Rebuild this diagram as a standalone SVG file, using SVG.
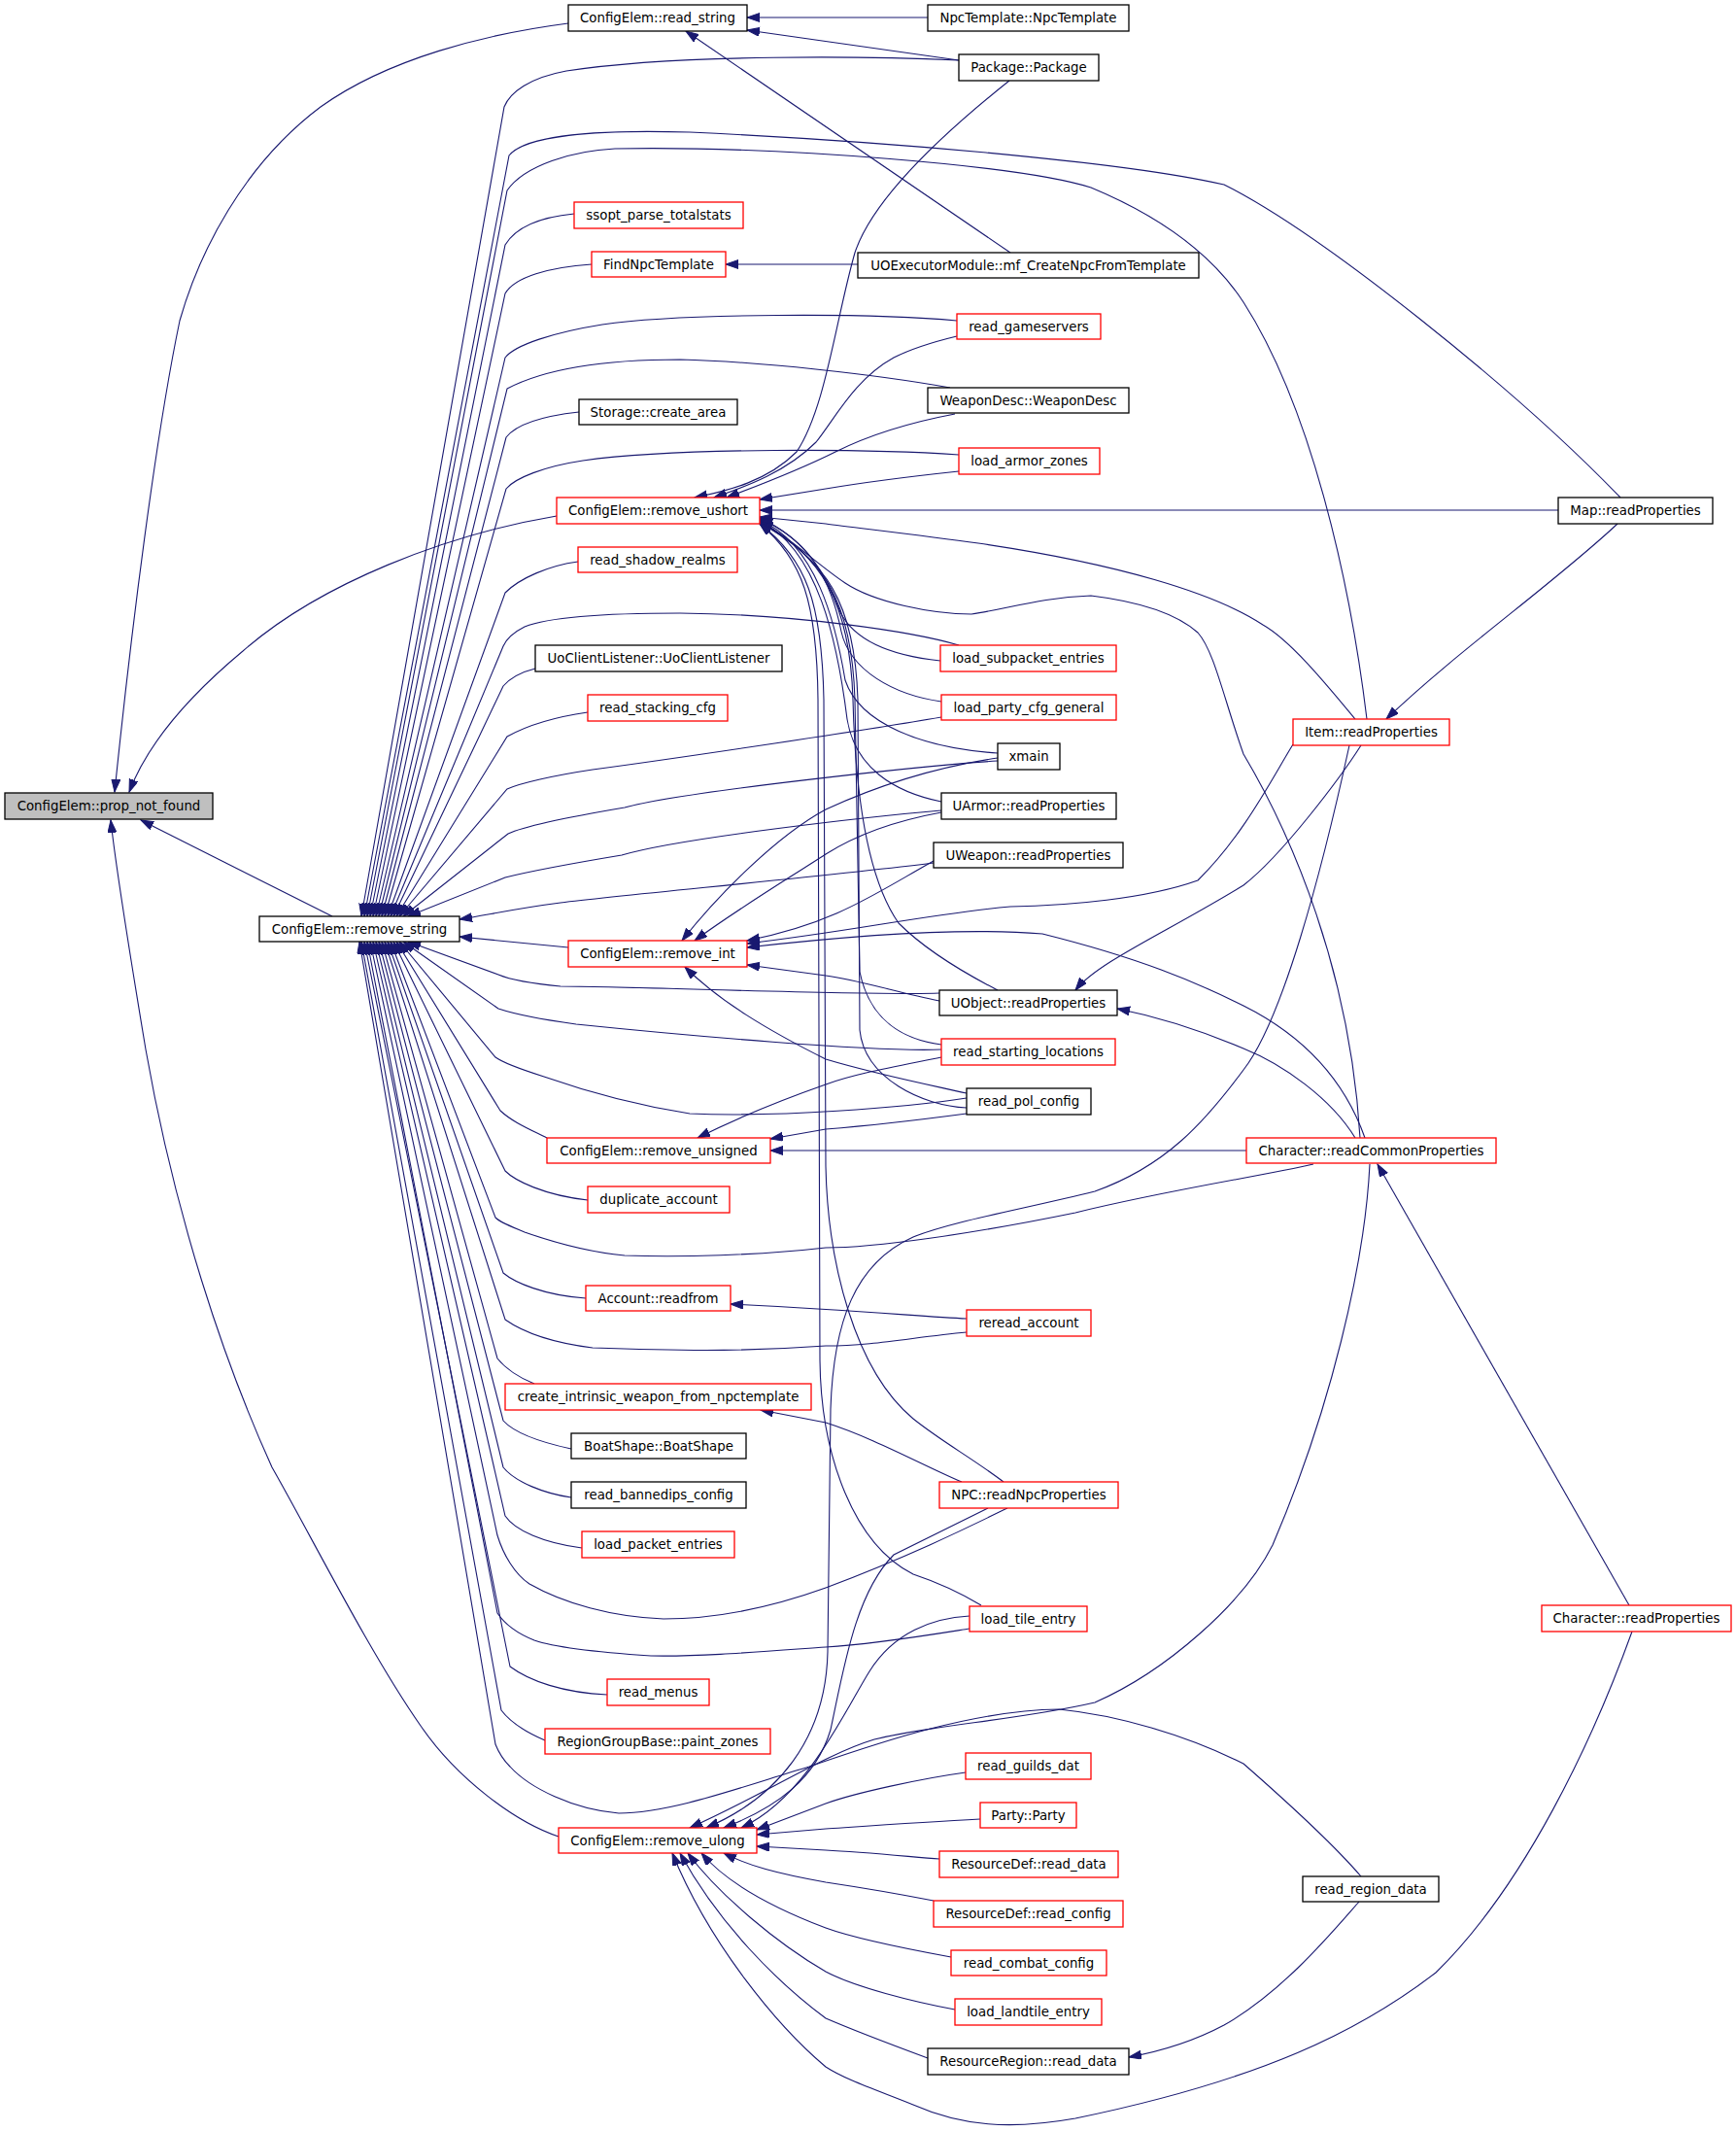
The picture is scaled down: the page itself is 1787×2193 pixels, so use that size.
<svg xmlns="http://www.w3.org/2000/svg" width="1787" height="2193" viewBox="0 0 1787 2193">
<style>
.n rect{fill:#ffffff;stroke:#000000;stroke-width:1.3}
.n.r rect{stroke:#ff0000}
.n.g rect{fill:#bfbfbf}
.n text{font-family:"DejaVu Sans","Liberation Sans",sans-serif;font-size:13.33px;text-anchor:middle;fill:#000000}
#edges path{fill:none;stroke:#191970;stroke-width:1.1;marker-end:url(#ah)}
</style>
<defs>
<marker id="ah" markerUnits="userSpaceOnUse" markerWidth="14" markerHeight="10" refX="13" refY="4.5" orient="auto">
<path d="M0,0 L13,4.5 L0,9 z" fill="#191970" stroke="#191970" stroke-width="1"/>
</marker>
</defs>
<rect width="1787" height="2193" fill="#ffffff"/>
<g id="edges">
<!-- into prop_not_found -->
<path d="M585,24 C500,35 400,60 330,110 C250,170 205,260 185,330 C160,450 135,650 118,815"/>
<path d="M573,531 C460,550 330,600 250,670 C190,720 150,770 133,815"/>
<path d="M342,943 L145,844"/>
<path d="M575,1890 C530,1875 470,1830 433,1776 C380,1700 320,1580 280,1510 C230,1400 180,1250 150,1080 C135,990 120,900 114,844"/>
<!-- into read_string -->
<path d="M955,18 L769,18"/>
<path d="M987,62 C900,50 830,40 769,31"/>
<path d="M1040,260 L706,32"/>
<!-- misc -->
<path d="M883,272 L747,272"/>
<path d="M995,1357 C950,1355 880,1348 752,1342"/>
<path d="M990,1525 C950,1508 900,1480 850,1464 L783,1451"/>
<path d="M1665,539 C1600,600 1500,670 1427,740"/>
<path d="M1401,767 C1380,800 1320,880 1280,911 C1200,960 1130,990 1107,1019"/>
<path d="M1395,1171 C1370,1130 1320,1095 1280,1079 C1240,1062 1200,1048 1150,1038"/>
<path d="M1677,1652 L1418,1198"/>
<path d="M1399,1957 C1370,1990 1320,2050 1260,2084 C1230,2100 1200,2110 1162,2117"/>
<!-- into remove_string: top fan -->
<path d="M987,62 C900,58 700,55 583,73 C545,80 525,95 519,110 L372,943"/>
<path d="M1668,512 C1560,400 1360,240 1260,190 C1150,165 900,145 710,136 C610,133 540,140 524,160 L375,943"/>
<path d="M1407,740 C1390,600 1350,420 1280,311 C1250,265 1200,225 1123,193 C1050,170 800,150 633,153 C590,155 540,170 522,196 L378,943"/>
<path d="M591,220 C560,223 532,232 520,252 L381,943"/>
<path d="M609,272 C565,275 530,285 520,302 L384,943"/>
<path d="M985,330 C900,322 700,322 620,334 C570,342 530,355 520,368 L387,943"/>
<path d="M978,399 C900,385 780,372 700,370 C620,370 560,380 522,400 L390,943"/>
<path d="M596,424 C560,428 532,436 521,450 L393,943"/>
<path d="M987,468 C900,462 700,460 600,474 C560,480 530,492 521,503 L396,943"/>
<path d="M595,578 C565,582 535,595 520,610 L399,943"/>
<path d="M987,664 C940,650 820,632 700,631 C620,631 565,635 540,645 C530,650 522,656 518,665 L402,943"/>
<path d="M551,688 C535,692 525,698 518,706 L405,943"/>
<path d="M605,733 C570,738 540,748 522,758 L408,943"/>
<path d="M969,738 C900,750 700,780 610,792 C570,798 535,806 522,812 L411,943"/>
<path d="M1027,783 C950,788 700,815 643,831 C590,840 540,850 523,858 L415,943"/>
<path d="M969,834 C900,840 700,862 640,880 C580,890 540,898 520,903 L420,943"/>
<!-- into remove_string: right -->
<path d="M961,888 C850,902 650,920 577,929 C530,935 500,942 473,946"/>
<path d="M585,975 L473,964"/>
<!-- into remove_string: bottom fan -->
<path d="M967,1022 C900,1025 650,1015 577,1015 C545,1012 525,1008 513,1003 L420,969"/>
<path d="M969,1080 C900,1083 700,1065 593,1054 C550,1048 525,1042 513,1038 L415,969"/>
<path d="M995,1130 C930,1140 800,1150 710,1146 C640,1135 580,1115 560,1108 C535,1100 518,1094 510,1088 L411,969"/>
<path d="M563,1171 C545,1162 528,1155 515,1143 L408,969"/>
<path d="M605,1235 C560,1230 530,1215 520,1205 L405,969"/>
<path d="M1352,1198 C1300,1210 1200,1225 1107,1248 C1000,1270 900,1284 850,1284 C780,1292 700,1294 643,1292 C600,1288 560,1275 540,1268 C525,1262 515,1258 510,1253 L402,969"/>
<path d="M603,1336 C560,1333 530,1320 518,1310 L399,969"/>
<path d="M995,1371 C940,1376 900,1385 850,1385 C780,1390 720,1391 610,1387 C570,1382 540,1372 520,1358 L396,969"/>
<path d="M550,1424 C535,1418 520,1408 512,1398 L393,969"/>
<path d="M588,1491 C560,1485 530,1475 518,1462 L390,969"/>
<path d="M588,1541 C560,1537 530,1525 518,1510 L387,969"/>
<path d="M599,1593 C560,1588 530,1575 520,1560 L384,969"/>
<path d="M1037,1552 C1000,1570 940,1600 850,1634 C800,1652 740,1666 683,1666 C630,1664 580,1650 545,1630 C530,1620 518,1600 512,1580 L381,969"/>
<path d="M998,1676 C960,1682 900,1692 850,1695 C780,1700 720,1705 670,1704 C610,1700 570,1695 550,1688 C535,1682 520,1672 512,1660 L378,969"/>
<path d="M625,1744 C580,1742 545,1730 525,1715 L375,969"/>
<path d="M561,1791 C540,1782 525,1772 516,1760 L372,969"/>
<path d="M1401,1931 C1370,1895 1320,1850 1280,1815 C1220,1785 1150,1765 1090,1759 C1000,1760 900,1795 833,1818 C760,1840 690,1866 637,1866 C590,1862 545,1840 525,1818 C515,1808 512,1800 510,1795 L370,969"/>
<!-- into remove_ushort -->
<path d="M1039,83 C980,130 900,200 880,260 C860,330 850,420 820,465 C790,495 750,505 715,512"/>
<path d="M985,346 C960,352 940,358 920,368 C880,390 860,430 840,455 C810,485 770,500 735,512"/>
<path d="M983,426 C930,436 890,450 860,465 C820,485 780,500 748,512"/>
<path d="M987,485 C940,490 880,498 850,503 L782,514"/>
<path d="M1604,525 L782,525"/>
<path d="M1395,740 C1370,710 1330,660 1300,643 C1250,610 1150,580 1007,559 C950,551 880,543 850,539 L782,532"/>
<path d="M1400,1171 C1390,1000 1330,860 1280,776 C1260,720 1250,670 1233,651 C1215,635 1180,620 1123,613 C1070,615 1040,626 1000,632 C960,632 900,620 870,600 C840,580 810,550 782,537"/>
<path d="M968,680 C920,675 880,660 865,630 C850,590 830,555 782,533"/>
<path d="M969,722 C920,715 875,690 866,650 C856,600 835,556 782,534"/>
<path d="M1027,775 C950,770 885,745 870,700 C860,640 840,560 782,535"/>
<path d="M969,825 C920,815 880,790 872,740 C862,660 842,565 782,536"/>
<path d="M1027,1019 C990,1000 950,975 925,950 C890,900 880,800 878,720 C875,620 845,570 782,537"/>
<path d="M969,1075 C930,1070 895,1050 885,1000 L880,720 C877,620 848,572 782,538"/>
<path d="M995,1140 C950,1138 890,1110 885,1060 L883,720 C880,620 850,575 782,538"/>
<path d="M1033,1525 C1000,1500 970,1484 940,1460 C880,1410 852,1300 850,1200 L848,720 C846,620 830,575 782,539"/>
<path d="M1010,1652 C990,1640 970,1630 940,1620 C880,1590 845,1500 844,1400 L842,720 C841,620 826,575 782,539"/>
<!-- into remove_int -->
<path d="M1027,780 C960,790 900,810 850,833 C800,860 740,920 702,968"/>
<path d="M969,836 C920,845 880,860 850,879 C810,905 760,935 715,968"/>
<path d="M961,886 C900,920 860,950 769,968"/>
<path d="M1331,766 C1310,800 1280,860 1233,906 C1180,925 1100,932 1040,933 C960,940 880,958 769,971"/>
<path d="M1405,1171 C1380,1100 1330,1060 1280,1035 C1230,1010 1173,986 1073,961 C1000,955 900,960 769,975"/>
<path d="M967,1030 C920,1020 880,1008 850,1004 L769,993"/>
<path d="M995,1125 C950,1115 900,1105 850,1090 C790,1060 740,1030 705,995"/>
<!-- into remove_unsigned -->
<path d="M969,1088 C920,1098 880,1105 850,1116 C810,1130 760,1150 718,1171"/>
<path d="M995,1146 C950,1152 900,1158 850,1162 L793,1172"/>
<path d="M1283,1184 L793,1184"/>
<!-- into remove_ulong -->
<path d="M1389,767 C1360,900 1320,1050 1280,1101 C1240,1155 1200,1200 1127,1226 C1050,1245 980,1257 940,1273 C880,1300 858,1360 855,1450 L852,1700 C850,1790 800,1850 727,1881"/>
<path d="M1410,1198 C1405,1300 1370,1450 1310,1590 C1280,1650 1200,1720 1127,1752 C1050,1770 960,1775 900,1790 C850,1805 790,1845 710,1881"/>
<path d="M1017,1552 C980,1570 950,1585 920,1600 C880,1640 868,1720 855,1780 C840,1830 800,1860 745,1881"/>
<path d="M998,1663 C960,1665 920,1680 895,1720 C870,1760 830,1850 763,1881"/>
<path d="M994,1824 C950,1830 880,1845 850,1856 L779,1883"/>
<path d="M1009,1872 C950,1875 880,1880 850,1882 L779,1888"/>
<path d="M967,1913 C940,1911 890,1906 850,1904 L779,1900"/>
<path d="M961,1956 C930,1950 890,1943 850,1937 C800,1928 770,1920 745,1907"/>
<path d="M979,2014 C930,2005 880,1995 850,1984 C800,1965 750,1940 722,1907"/>
<path d="M983,2068 C940,2060 880,2045 850,2029 C800,2000 740,1950 708,1907"/>
<path d="M955,2118 C920,2105 880,2090 850,2077 C800,2040 740,1980 700,1907"/>
<path d="M1680,1679 C1640,1790 1570,1940 1478,2030 C1400,2090 1300,2140 1107,2180 C1040,2192 990,2188 940,2166 C900,2150 870,2140 850,2127 C800,2085 730,2000 692,1907"/>
</g>
<g id="n0" class="n g"><rect x="5" y="816" width="214" height="27"/><text x="112" y="834">ConfigElem::prop_not_found</text></g>
<g id="n1" class="n"><rect x="267" y="943" width="206" height="26"/><text x="370" y="961">ConfigElem::remove_string</text></g>
<g id="n2" class="n"><rect x="585" y="5" width="184" height="27"/><text x="677" y="23">ConfigElem::read_string</text></g>
<g id="n3" class="n"><rect x="955" y="5" width="207" height="27"/><text x="1058.5" y="23">NpcTemplate::NpcTemplate</text></g>
<g id="n4" class="n"><rect x="987" y="56" width="144" height="27"/><text x="1059" y="74">Package::Package</text></g>
<g id="n5" class="n r"><rect x="591" y="208" width="174" height="27"/><text x="678" y="226">ssopt_parse_totalstats</text></g>
<g id="n6" class="n r"><rect x="609" y="259" width="138" height="26"/><text x="678" y="277">FindNpcTemplate</text></g>
<g id="n7" class="n"><rect x="883" y="260" width="351" height="26"/><text x="1058.5" y="278">UOExecutorModule::mf_CreateNpcFromTemplate</text></g>
<g id="n8" class="n r"><rect x="985" y="323" width="148" height="26"/><text x="1059" y="341">read_gameservers</text></g>
<g id="n9" class="n"><rect x="955" y="399" width="207" height="26"/><text x="1058.5" y="417">WeaponDesc::WeaponDesc</text></g>
<g id="n10" class="n"><rect x="596" y="411" width="163" height="26"/><text x="677.5" y="429">Storage::create_area</text></g>
<g id="n11" class="n r"><rect x="987" y="461" width="145" height="27"/><text x="1059.5" y="479">load_armor_zones</text></g>
<g id="n12" class="n r"><rect x="573" y="512" width="209" height="27"/><text x="677.5" y="530">ConfigElem::remove_ushort</text></g>
<g id="n13" class="n"><rect x="1604" y="512" width="159" height="27"/><text x="1683.5" y="530">Map::readProperties</text></g>
<g id="n14" class="n r"><rect x="595" y="563" width="164" height="26"/><text x="677" y="581">read_shadow_realms</text></g>
<g id="n15" class="n"><rect x="551" y="664" width="254" height="27"/><text x="678" y="682">UoClientListener::UoClientListener</text></g>
<g id="n16" class="n r"><rect x="968" y="664" width="181" height="27"/><text x="1058.5" y="682">load_subpacket_entries</text></g>
<g id="n17" class="n r"><rect x="605" y="715" width="144" height="27"/><text x="677" y="733">read_stacking_cfg</text></g>
<g id="n18" class="n r"><rect x="969" y="715" width="180" height="26"/><text x="1059" y="733">load_party_cfg_general</text></g>
<g id="n19" class="n r"><rect x="1331" y="740" width="161" height="27"/><text x="1411.5" y="758">Item::readProperties</text></g>
<g id="n20" class="n"><rect x="1027" y="765" width="64" height="27"/><text x="1059" y="783">xmain</text></g>
<g id="n21" class="n"><rect x="969" y="816" width="180" height="27"/><text x="1059" y="834">UArmor::readProperties</text></g>
<g id="n22" class="n"><rect x="961" y="867" width="195" height="26"/><text x="1058.5" y="885">UWeapon::readProperties</text></g>
<g id="n23" class="n r"><rect x="585" y="968" width="184" height="27"/><text x="677" y="986">ConfigElem::remove_int</text></g>
<g id="n24" class="n"><rect x="967" y="1019" width="183" height="26"/><text x="1058.5" y="1037">UObject::readProperties</text></g>
<g id="n25" class="n r"><rect x="969" y="1069" width="179" height="27"/><text x="1058.5" y="1087">read_starting_locations</text></g>
<g id="n26" class="n"><rect x="995" y="1120" width="128" height="27"/><text x="1059" y="1138">read_pol_config</text></g>
<g id="n27" class="n r"><rect x="563" y="1171" width="230" height="26"/><text x="678" y="1189">ConfigElem::remove_unsigned</text></g>
<g id="n28" class="n r"><rect x="1283" y="1171" width="257" height="26"/><text x="1411.5" y="1189">Character::readCommonProperties</text></g>
<g id="n29" class="n r"><rect x="605" y="1221" width="146" height="27"/><text x="678" y="1239">duplicate_account</text></g>
<g id="n30" class="n r"><rect x="603" y="1323" width="149" height="26"/><text x="677.5" y="1341">Account::readfrom</text></g>
<g id="n31" class="n r"><rect x="995" y="1348" width="128" height="27"/><text x="1059" y="1366">reread_account</text></g>
<g id="n32" class="n r"><rect x="520" y="1424" width="315" height="27"/><text x="677.5" y="1442">create_intrinsic_weapon_from_npctemplate</text></g>
<g id="n33" class="n"><rect x="588" y="1475" width="180" height="26"/><text x="678" y="1493">BoatShape::BoatShape</text></g>
<g id="n34" class="n"><rect x="588" y="1525" width="180" height="27"/><text x="678" y="1543">read_bannedips_config</text></g>
<g id="n35" class="n r"><rect x="967" y="1525" width="184" height="27"/><text x="1059" y="1543">NPC::readNpcProperties</text></g>
<g id="n36" class="n r"><rect x="599" y="1576" width="157" height="27"/><text x="677.5" y="1594">load_packet_entries</text></g>
<g id="n37" class="n r"><rect x="998" y="1653" width="121" height="26"/><text x="1058.5" y="1671">load_tile_entry</text></g>
<g id="n38" class="n r"><rect x="1587" y="1652" width="195" height="27"/><text x="1684.5" y="1670">Character::readProperties</text></g>
<g id="n39" class="n r"><rect x="625" y="1728" width="105" height="27"/><text x="677.5" y="1746">read_menus</text></g>
<g id="n40" class="n r"><rect x="561" y="1779" width="232" height="26"/><text x="677" y="1797">RegionGroupBase::paint_zones</text></g>
<g id="n41" class="n r"><rect x="994" y="1804" width="129" height="27"/><text x="1058.5" y="1822">read_guilds_dat</text></g>
<g id="n42" class="n r"><rect x="1009" y="1855" width="99" height="26"/><text x="1058.5" y="1873">Party::Party</text></g>
<g id="n43" class="n r"><rect x="575" y="1881" width="204" height="26"/><text x="677" y="1899">ConfigElem::remove_ulong</text></g>
<g id="n44" class="n r"><rect x="967" y="1905" width="184" height="27"/><text x="1059" y="1923">ResourceDef::read_data</text></g>
<g id="n45" class="n"><rect x="1341" y="1931" width="140" height="26"/><text x="1411" y="1949">read_region_data</text></g>
<g id="n46" class="n r"><rect x="961" y="1956" width="195" height="27"/><text x="1058.5" y="1974">ResourceDef::read_config</text></g>
<g id="n47" class="n r"><rect x="979" y="2007" width="160" height="26"/><text x="1059" y="2025">read_combat_config</text></g>
<g id="n48" class="n r"><rect x="983" y="2057" width="151" height="27"/><text x="1058.5" y="2075">load_landtile_entry</text></g>
<g id="n49" class="n"><rect x="955" y="2108" width="207" height="27"/><text x="1058.5" y="2126">ResourceRegion::read_data</text></g>
</svg>
